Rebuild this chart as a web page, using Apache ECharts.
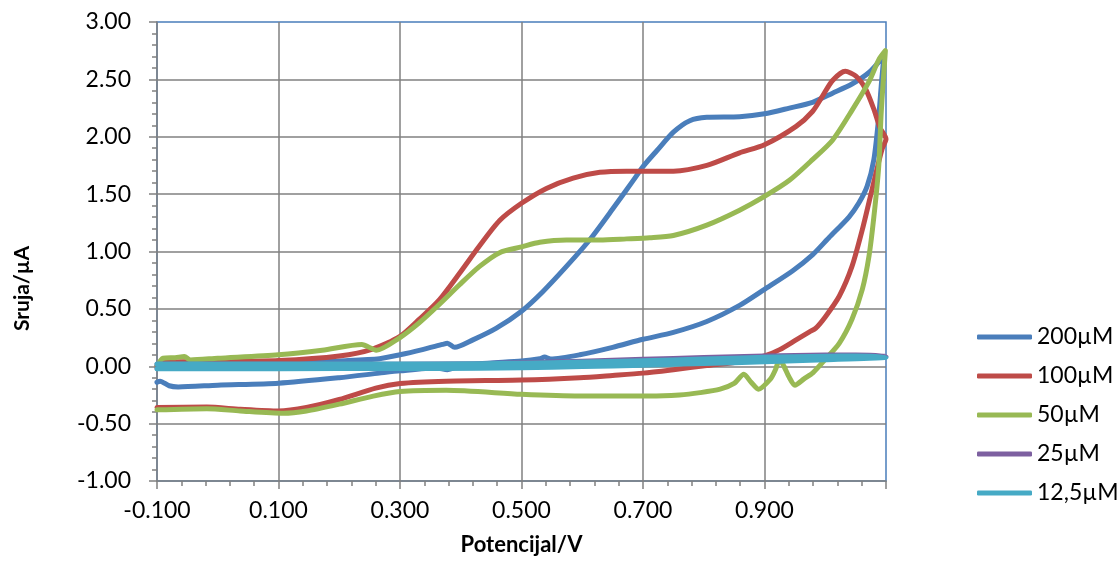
<!DOCTYPE html>
<html>
<head>
<meta charset="utf-8">
<script src="https://cdn.jsdelivr.net/npm/echarts@6/dist/echarts.min.js"></script>
<style>
html,body{margin:0;padding:0;background:#fff;}
#c{width:1117px;height:561px;}
</style>
</head>
<body>
<div id="c"></div>
<script>
// Series names
const seriesNames = ['200\u00B5M', '100\u00B5M', '50\u00B5M', '25\u00B5M', '12,5\u00B5M'];

// [potential V, current uA]
const s200 = [
  [-0.1, -0.14], [-0.095, -0.13], [-0.08, -0.17], [-0.065, -0.18], [0.0, -0.165], [0.1, -0.148],
  [0.2, -0.10], [0.266, -0.06], [0.3, -0.04], [0.36, -0.015], [0.378, -0.03], [0.392, -0.01],
  [0.43, 0.02], [0.5, 0.045], [0.53, 0.065], [0.538, 0.08], [0.548, 0.064], [0.596, 0.10],
  [0.65, 0.165], [0.7, 0.235], [0.75, 0.295], [0.805, 0.39], [0.859, 0.53], [0.9, 0.67],
  [0.946, 0.83], [0.979, 0.97], [1.006, 1.12], [1.039, 1.30], [1.055, 1.42], [1.069, 1.57],
  [1.08, 1.80], [1.088, 2.17], [1.093, 2.50], [1.097, 2.72],
  [1.091, 2.67], [1.072, 2.56], [1.044, 2.46], [1.012, 2.38], [0.979, 2.30], [0.941, 2.25],
  [0.9, 2.20], [0.859, 2.175], [0.805, 2.17], [0.777, 2.14], [0.75, 2.04], [0.723, 1.88],
  [0.7, 1.74], [0.684, 1.62], [0.65, 1.37], [0.612, 1.10], [0.574, 0.87], [0.535, 0.65],
  [0.5, 0.48], [0.458, 0.33], [0.42, 0.23], [0.39, 0.165], [0.378, 0.20], [0.37, 0.19],
  [0.337, 0.145], [0.3, 0.10], [0.266, 0.066], [0.2, 0.046], [0.1, 0.02], [0.0, 0.006], [-0.1, 0.0]
];

const s100 = [
  [-0.1, 0.0], [-0.09, 0.03], [-0.06, 0.04], [0.0, 0.042], [0.1, 0.05], [0.2, 0.09],
  [0.255, 0.15], [0.3, 0.26], [0.332, 0.41], [0.365, 0.58], [0.398, 0.81], [0.431, 1.05],
  [0.464, 1.27], [0.5, 1.42], [0.541, 1.55], [0.585, 1.64], [0.629, 1.69], [0.673, 1.70],
  [0.711, 1.70], [0.75, 1.70], [0.805, 1.75], [0.859, 1.86], [0.9, 1.93], [0.952, 2.09],
  [0.979, 2.22], [0.995, 2.35], [1.012, 2.49], [1.033, 2.57], [1.05, 2.53], [1.066, 2.42],
  [1.08, 2.24], [1.09, 2.08], [1.1, 1.98],
  [1.094, 1.90], [1.088, 1.78], [1.077, 1.54], [1.061, 1.19], [1.044, 0.87], [1.023, 0.61],
  [1.0, 0.43], [0.984, 0.33], [0.974, 0.30], [0.952, 0.23], [0.925, 0.145], [0.9, 0.09],
  [0.859, 0.04], [0.805, 0.006], [0.75, -0.03], [0.7, -0.06], [0.65, -0.08], [0.596, -0.10],
  [0.5, -0.12], [0.376, -0.13], [0.3, -0.15], [0.26, -0.19], [0.2, -0.29], [0.146, -0.36],
  [0.1, -0.39], [0.037, -0.375], [-0.018, -0.355], [-0.1, -0.36]
];

const s50 = [
  [-0.1, 0.0], [-0.09, 0.07], [-0.07, 0.075], [-0.055, 0.085], [-0.045, 0.055], [0.0, 0.07],
  [0.1, 0.10], [0.172, 0.14], [0.237, 0.19], [0.261, 0.14], [0.3, 0.25], [0.332, 0.38],
  [0.365, 0.54], [0.398, 0.71], [0.431, 0.87], [0.464, 0.99], [0.5, 1.04], [0.53, 1.08],
  [0.574, 1.10], [0.629, 1.10], [0.673, 1.11], [0.711, 1.12], [0.75, 1.14], [0.805, 1.23],
  [0.859, 1.36], [0.9, 1.48], [0.941, 1.62], [0.979, 1.80], [1.012, 1.97], [1.044, 2.23],
  [1.072, 2.48], [1.088, 2.67], [1.099, 2.75],
  [1.095, 2.45], [1.092, 2.20], [1.088, 1.74], [1.08, 1.30], [1.072, 0.96], [1.061, 0.67],
  [1.044, 0.41], [1.023, 0.20], [1.0, 0.06], [0.98, -0.055], [0.965, -0.11], [0.95, -0.165],
  [0.94, -0.09], [0.932, 0.0], [0.925, 0.06], [0.918, -0.03], [0.91, -0.11], [0.89, -0.20],
  [0.878, -0.14], [0.866, -0.07], [0.85, -0.15], [0.827, -0.20], [0.794, -0.23], [0.76, -0.25],
  [0.711, -0.26], [0.596, -0.26], [0.5, -0.245], [0.376, -0.21], [0.3, -0.22], [0.256, -0.26],
  [0.2, -0.33], [0.146, -0.39], [0.108, -0.41], [0.037, -0.39], [-0.018, -0.37], [-0.1, -0.38]
];

const s25 = [
  [-0.1, -0.018], [0.1, -0.018], [0.3, -0.015], [0.43, -0.011], [0.5, -0.005], [0.6, 0.005],
  [0.7, 0.017], [0.8, 0.032], [0.9, 0.047], [1.0, 0.065], [1.1, 0.088],
  [1.05, 0.099], [1.0, 0.098], [0.9, 0.09], [0.8, 0.076], [0.7, 0.06], [0.6, 0.044],
  [0.5, 0.03], [0.43, 0.022], [0.3, 0.018], [0.1, 0.018], [-0.1, 0.018]
];

const s125 = [
  [-0.1, -0.021], [0.1, -0.021], [0.3, -0.02], [0.43, -0.018], [0.5, -0.013], [0.6, -0.003],
  [0.7, 0.009], [0.8, 0.024], [0.9, 0.039], [1.0, 0.056], [1.1, 0.079],
  [1.05, 0.09], [1.0, 0.087], [0.9, 0.078], [0.8, 0.063], [0.7, 0.048], [0.6, 0.036],
  [0.5, 0.026], [0.43, 0.021], [0.3, 0.02], [0.1, 0.02], [-0.1, 0.02]
];

const seriesData = [s200, s100, s50, s25, s125];
const seriesColors = ['#4A7EBB', '#BE4B48', '#98B954', '#7D60A0', '#46AAC5'];

const xMin = -0.1, xMax = 1.1, xStep = 0.2;
const yMin = -1, yMax = 3, yStep = 0.5;

const FONT = 'Lato, "Open Sans", sans-serif';
const axisGray = '#808080';

const chart = echarts.init(document.getElementById('c'), null, {renderer: 'canvas'});

chart.setOption({
  animation: false,
  backgroundColor: '#ffffff',
  grid: {
    left: 157, top: 22, width: 729, height: 460,
    containLabel: false,
    show: true, borderColor: '#4A7EBB', borderWidth: 1.5, backgroundColor: 'transparent'
  },
  legend: {
    orient: 'vertical',
    left: 972, top: 320,
    itemWidth: 55, itemHeight: 5, itemGap: 15,
    icon: 'roundRect',
    textStyle: {fontFamily: FONT, fontSize: 23, lineHeight: 24, color: '#000'},
    data: seriesNames
  },
  xAxis: {
    type: 'value',
    min: xMin, max: xMax, interval: xStep,
    name: 'Potencijal/V',
    nameLocation: 'middle',
    nameGap: 53,
    nameTextStyle: {fontFamily: FONT, fontSize: 22, fontWeight: 'bold', color: '#000'},
    axisLine: {show: true, onZero: false, lineStyle: {color: axisGray, width: 1.5}},
    axisTick: {show: true, length: 8, lineStyle: {color: axisGray, width: 1.5}},
    minorTick: {show: true, splitNumber: 5, length: 5, lineStyle: {color: axisGray, width: 1.5}},
    axisLabel: {
      margin: 18, fontFamily: FONT, fontSize: 23, color: '#000',
      showMaxLabel: false,
      formatter: v => v.toFixed(3)
    },
    splitLine: {show: true, showMaxLine: false, showMinLine: false, lineStyle: {color: axisGray, width: 1.5}}
  },
  yAxis: {
    type: 'value',
    min: yMin, max: yMax, interval: yStep,
    name: 'Sruja/\u00B5A',
    nameLocation: 'middle',
    nameGap: 124,
    nameTextStyle: {fontFamily: FONT, fontSize: 21, fontWeight: 'bold', color: '#000', padding: [0, 74, 0, 0]},
    axisLine: {show: true, onZero: false, lineStyle: {color: axisGray, width: 1.5}},
    axisTick: {show: true, length: 8, lineStyle: {color: axisGray, width: 1.5}},
    minorTick: {show: true, splitNumber: 5, length: 5, lineStyle: {color: axisGray, width: 1.5}},
    axisLabel: {
      margin: 26, fontFamily: FONT, fontSize: 23, color: '#000',
      formatter: v => v.toFixed(2)
    },
    splitLine: {show: true, showMaxLine: false, showMinLine: false, lineStyle: {color: axisGray, width: 1.5}}
  },
  series: seriesData.map((d, i) => ({
    name: seriesNames[i],
    type: 'line',
    data: d,
    showSymbol: false,
    symbol: 'none',
    smooth: 0.25,
    color: seriesColors[i],
    lineStyle: {color: seriesColors[i], width: 5, cap: 'round', join: 'round'},
    itemStyle: {color: seriesColors[i]},
    z: 2 + i
  }))
});
</script>
</body>
</html>
